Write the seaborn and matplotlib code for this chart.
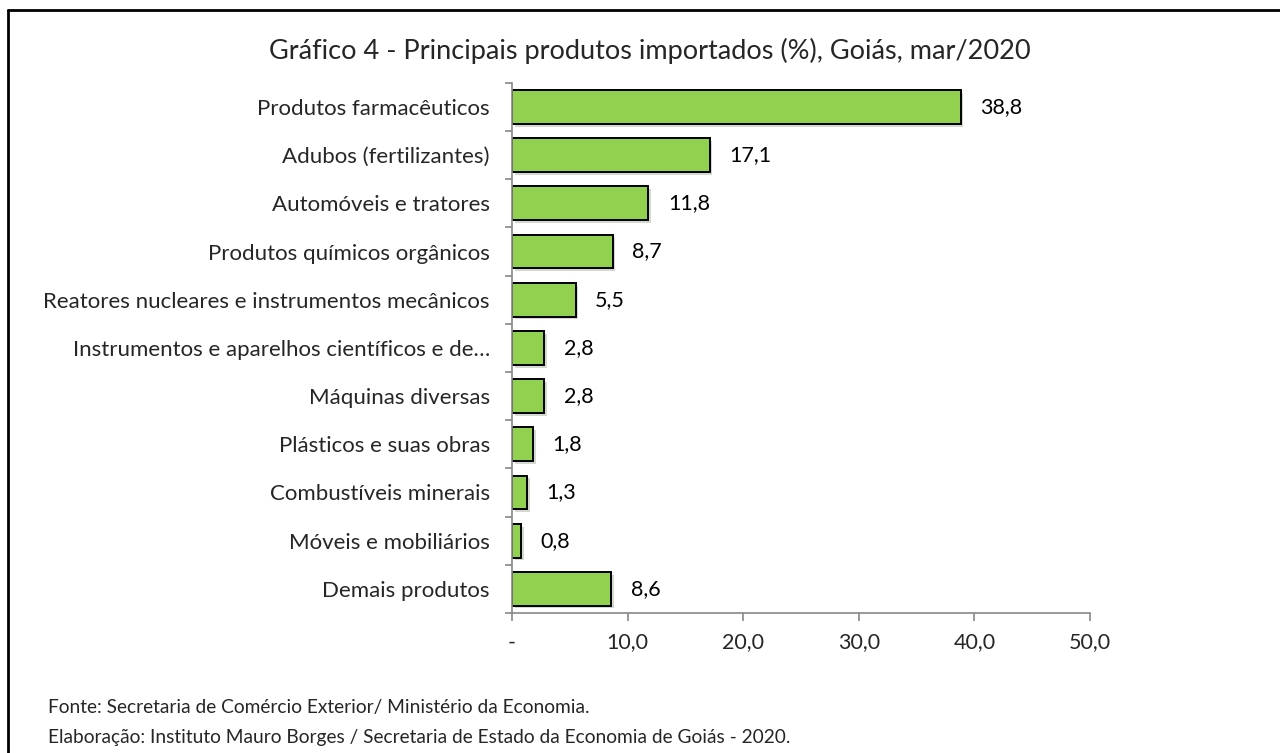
import matplotlib
matplotlib.use("Agg")
import matplotlib.pyplot as plt
import matplotlib.patheffects as pe
import seaborn as sns
import pandas as pd
import numpy as np

categories = [
    "Produtos farmacêuticos",
    "Adubos (fertilizantes)",
    "Automóveis e tratores",
    "Produtos químicos orgânicos",
    "Reatores nucleares e instrumentos mecânicos",
    "Instrumentos e aparelhos científicos e de…",
    "Máquinas diversas",
    "Plásticos e suas obras",
    "Combustíveis minerais",
    "Móveis e mobiliários",
    "Demais produtos",
]
values = [38.8, 17.1, 11.8, 8.7, 5.5, 2.8, 2.8, 1.8, 1.3, 0.8, 8.6]
xticks = [0, 10, 20, 30, 40, 50]
xtick_labels = ["-", "10,0", "20,0", "30,0", "40,0", "50,0"]

title = "Gráfico 4 - Principais produtos importados (%), Goiás, mar/2020"
footer1 = "Fonte: Secretaria de Comércio Exterior/ Ministério da Economia."
footer2 = "Elaboração: Instituto Mauro Borges / Secretaria de Estado da Economia de Goiás - 2020."

sns.set_style("white")
plt.rcParams["font.family"] = ["Lato", "DejaVu Sans"]

df = pd.DataFrame({"cat": categories, "val": values})

fig = plt.figure(figsize=(12.8, 7.53), dpi=100)
ax = fig.add_axes([0.4, 0.186, 0.4516, 0.704])

sns.barplot(data=df, y="cat", x="val", orient="h", color="#92D050",
            edgecolor="black", linewidth=1.4, width=0.7, saturation=1, ax=ax)

for p in ax.patches:
    p.set_path_effects([pe.SimplePatchShadow(offset=(2, -2), alpha=0.2), pe.Normal()])

labels = [f"{v:.1f}".replace(".", ",") for v in values]
ax.bar_label(ax.containers[0], labels=labels, padding=14, fontsize=15.5, color="#000000")

ax.set_xlim(0, 50)
ax.set_ylim(len(categories) - 0.5, -0.5)
ax.set_xticks(xticks)
ax.set_xticklabels(xtick_labels, fontsize=15.5)
ax.set_yticks(range(len(categories)))
ax.set_yticklabels(categories, fontsize=16)
ax.set_yticks(np.arange(-0.5, len(categories)), minor=True)
ax.tick_params(axis="y", which="major", length=0, pad=16, left=True)
ax.tick_params(axis="y", which="minor", length=5, color="#888888", width=1.2, direction="out", left=True)
ax.tick_params(axis="x", which="major", length=6, color="#888888", width=1.2, direction="out", pad=8, bottom=True)
ax.set_xlabel("")
ax.set_ylabel("")
for s in ["top", "right"]:
    ax.spines[s].set_visible(False)
for s in ["left", "bottom"]:
    ax.spines[s].set_color("#888888")
    ax.spines[s].set_linewidth(1.2)

fig.text(0.508, 0.932, title, ha="center", va="center", fontsize=19.5)
fig.text(0.0375, 0.061, footer1, ha="left", va="center", fontsize=13.8)
fig.text(0.0375, 0.021, footer2, ha="left", va="center", fontsize=13.8)

# outer border (left and top visible)
fig.add_artist(plt.Line2D([0.0063, 0.0063], [0, 0.987], color="black", lw=2, transform=fig.transFigure))
fig.add_artist(plt.Line2D([0.0063, 1.0], [0.987, 0.987], color="black", lw=2, transform=fig.transFigure))

fig.savefig("out.png", dpi=100)
